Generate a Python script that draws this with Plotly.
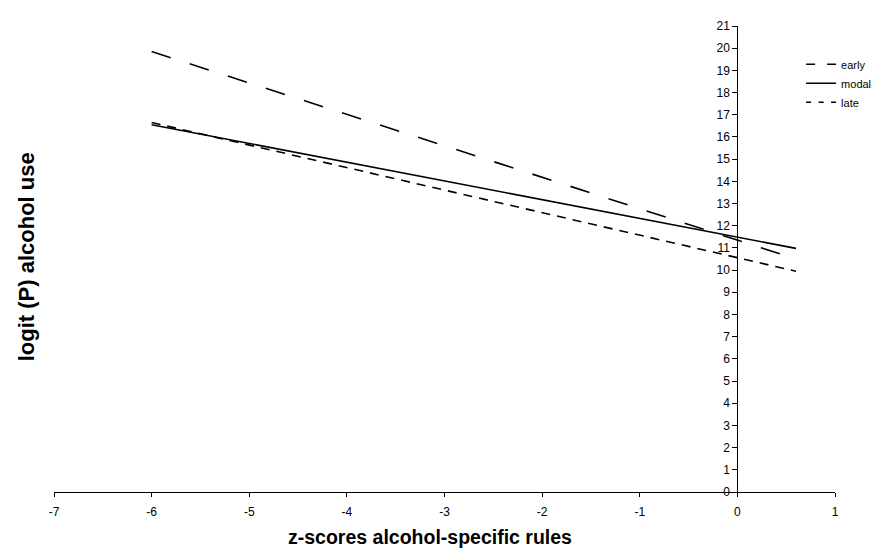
import plotly.graph_objects as go

# Data
x_vals = [-6, 0.6]
early = [19.85, 10.5]
modal = [16.55, 10.98]
late = [16.65, 9.95]
series_names = ["early", "modal", "late"]
x_ticks = list(range(-7, 2))
y_ticks = list(range(0, 22))

plot_dash = ["20px,20px", "solid", "9px,7px"]
legend_dash = ["9px,12px", "solid", "5px,7.5px"]
series = [early, modal, late]

fig = go.Figure()
for name, vals, dash in zip(series_names, series, plot_dash):
    fig.add_trace(go.Scatter(x=x_vals, y=vals, mode="lines", name=name, showlegend=False,
                             line=dict(color="black", width=1.6, dash=dash)))
# legend entries (legend sample uses a shorter dash pattern, as in the reference)
for name, dash in zip(series_names, legend_dash):
    fig.add_trace(go.Scatter(x=[None], y=[None], mode="lines", name=name, showlegend=True,
                             line=dict(color="black", width=1.6, dash=dash)))

font = "Liberation Sans, Arial, sans-serif"
fig.update_layout(
    width=879, height=549,
    margin=dict(l=46, r=49, t=11, b=65),
    paper_bgcolor="white", plot_bgcolor="white",
    font=dict(family=font, size=11, color="black"),
    showlegend=True,
    legend=dict(x=0.9566, y=0.949, xanchor="left", yanchor="top",
                bgcolor="rgba(0,0,0,0)", font=dict(size=11, family=font),
                tracegroupgap=0),
    xaxis=dict(range=[-7, 1], tickvals=x_ticks, ticktext=[str(v) for v in x_ticks],
               showgrid=False, zeroline=False, showline=True, linecolor="black",
               linewidth=1, ticks="outside", ticklen=4, tickcolor="black",
               ticklabelstandoff=5,
               tickfont=dict(size=12), fixedrange=True),
    yaxis=dict(range=[0, 21], tickvals=y_ticks, ticktext=[str(v) for v in y_ticks],
               showgrid=False, zeroline=False, showline=True, linecolor="black",
               linewidth=1, ticks="outside", ticklen=5, tickcolor="black",
               anchor="free", position=7/8, tickfont=dict(size=12), fixedrange=True),
    annotations=[
        dict(text="<b>z-scores alcohol-specific rules</b>", xref="paper", yref="paper",
             x=0.481, y=-0.097, xanchor="center", yanchor="middle", showarrow=False,
             font=dict(size=19.5, family=font)),
        dict(text="<b>logit (P) alcohol use</b>", xref="paper", yref="paper",
             x=-0.0357, y=0.504, xanchor="center", yanchor="middle", showarrow=False,
             textangle=-90, font=dict(size=22, family=font)),
    ],
)

fig.write_html("out.html")
